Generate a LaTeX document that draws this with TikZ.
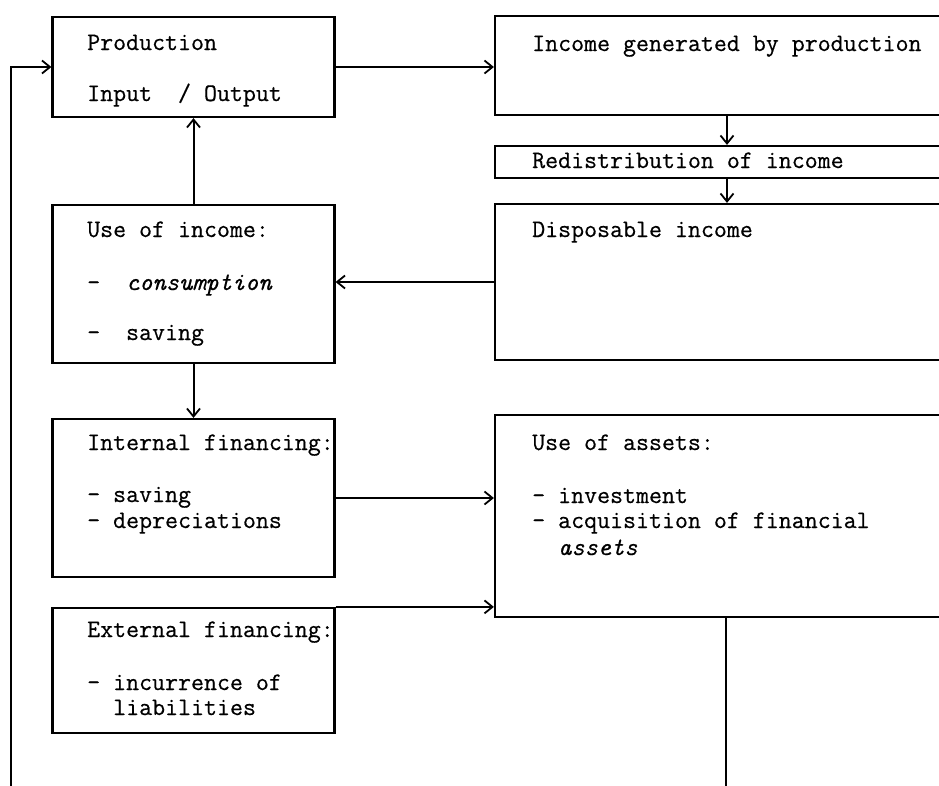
\documentclass[tikz,border=0pt]{standalone}
\usepackage{fontspec}
\newfontfamily\typew{Latin Modern Mono}[FakeBold=0.5]
\usetikzlibrary{arrows.meta}
\begin{document}
\begin{tikzpicture}[x=1pt,y=-1pt,
  box/.style={draw, line width=2.2pt, rectangle, inner sep=0pt},
  conn/.style={line width=2pt, -{Straight Barb[length=8pt,width=13pt,line width=1.8pt]}},
  plain/.style={line width=2pt},
  txt/.style={anchor=base west, inner sep=0pt, font=\typew\fontsize{25.2}{28}\selectfont}]
\useasboundingbox (0,0) rectangle (939,785);
\clip (0,0) rectangle (939,785);
% boxes
\node[box, minimum width=282pt, minimum height=100pt] (prod) at (193.5,67) {};
\node[box, minimum width=464pt, minimum height=99pt] (inc) at (727,65.5) {};
\node[box, minimum width=464pt, minimum height=32pt] (redis) at (727,162) {};
\node[box, minimum width=464pt, minimum height=156pt] (disp) at (727,282) {};
\node[box, minimum width=282pt, minimum height=158pt] (uoi) at (193.5,284) {};
\node[box, minimum width=282pt, minimum height=158pt] (intf) at (193.5,498) {};
\node[box, minimum width=282pt, minimum height=125pt] (extf) at (193.5,670.5) {};
\node[box, minimum width=464pt, minimum height=202pt] (uoa) at (727,516) {};
% texts
\node[txt] (t1) at (87,50) {Production};
\node[txt] (t2) at (87,101) {Input~~/ Output};
\node[txt] (t3) at (532,51) {Income generated by production};
\node[txt] (t4) at (532,168) {Redistribution of income};
\node[txt] (t5) at (532,237) {Disposable income};
\node[txt] (t6) at (87,237) {Use of income:};
\node[txt] (t7) at (87,290) {-~~\textit{consumption}};
\node[txt] (t8) at (87,340) {-~~saving};
\node[txt] (t9) at (87,450) {Internal financing:};
\node[txt] (t10) at (87,502) {- saving};
\node[txt] (t11) at (87,528) {- depreciations};
\node[txt] (t12) at (87,637) {External financing:};
\node[txt] (t13) at (87,690) {- incurrence of};
\node[txt] (t14) at (113,715) {liabilities};
\node[txt] (t15) at (532,450) {Use of assets:};
\node[txt] (t16) at (532,503) {- investment};
\node[txt] (t17) at (532,528) {- acquisition of financial};
\node[txt] (t18) at (558,555) {\textit{assets}};
% connectors
\coordinate (fb) at (11,790);
\coordinate (bot) at (726,790);
\draw[conn] (prod.east) -- (prod.east -| inc.west);
\draw[conn] (inc.south) -- (redis.north);
\draw[conn] (redis.south) -- (disp.north);
\draw[conn] (disp.west) -- (disp.west -| uoi.east);
\draw[conn] (uoi.north) -- (prod.south);
\draw[conn] (uoi.south) -- (intf.north);
\draw[conn] (intf.east) -- (intf.east -| uoa.west);
\draw[conn] (extf.north east) -- (extf.north east -| uoa.west);
\draw[plain] (uoa.south -| bot) -- (bot);
\draw[conn] (fb) |- (prod.west);
\end{tikzpicture}
\end{document}
